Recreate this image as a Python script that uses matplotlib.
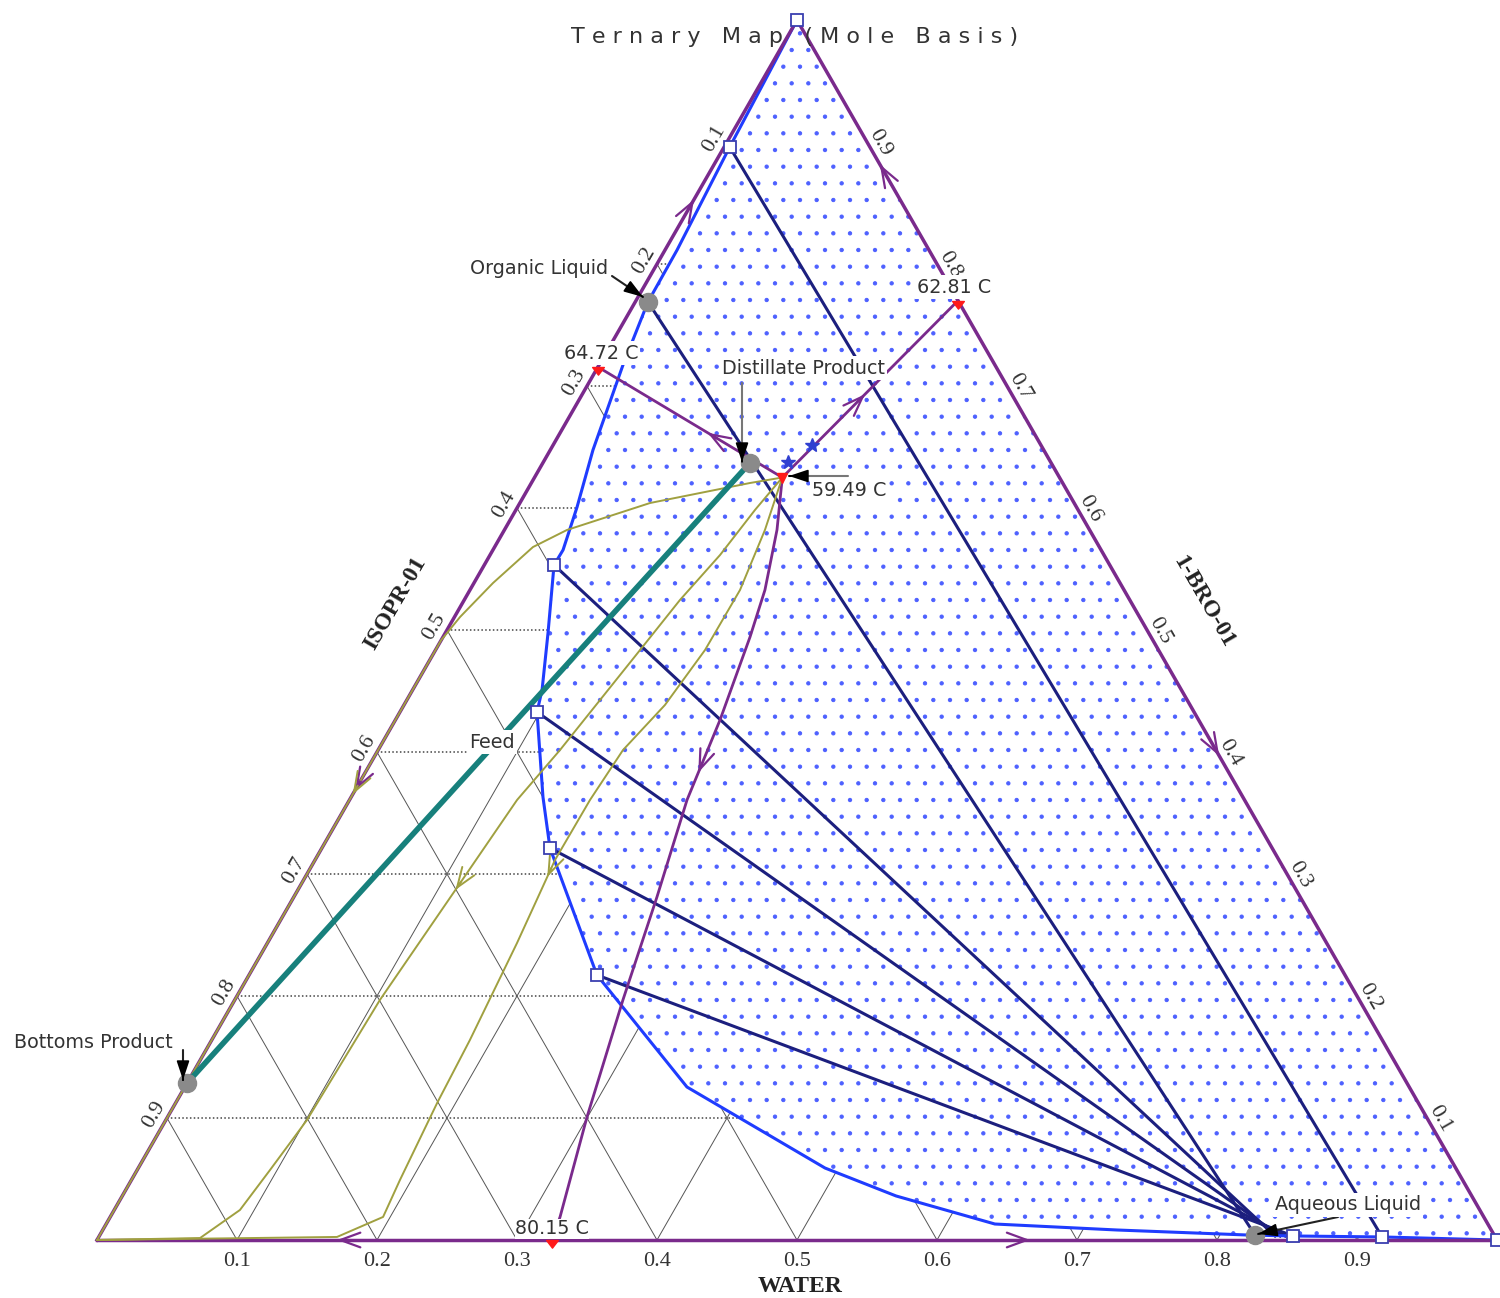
import numpy as np
import matplotlib
matplotlib.use("Agg")
import matplotlib.pyplot as plt
from matplotlib.path import Path

# compositions as (WATER, 1-BRO-01) mole fractions; ISOPR-01 = 1 - water - bro
binodal_water = [0.0, 0.004, 0.0086, 0.0091, 0.0171, 0.0305, 0.0425, 0.0501, 0.0498, 0.0734,
                 0.0925, 0.0979, 0.137, 0.1629, 0.2485, 0.3587, 0.4905, 0.5527, 0.6348, 0.7245,
                 0.8194, 0.8527, 0.9167, 1.0]
binodal_bro = [1.0, 0.8959, 0.8115, 0.7689, 0.7172, 0.6475, 0.6008, 0.5656, 0.5533, 0.4975,
               0.4508, 0.4328, 0.3631, 0.3213, 0.2172, 0.1254, 0.059, 0.0361, 0.0131, 0.0082,
               0.0041, 0.0033, 0.0025, 0.0]

tie_org_water = [0.004, 0.0091, 0.0498, 0.0979, 0.1629, 0.2485]
tie_org_bro = [0.8959, 0.7689, 0.5533, 0.4328, 0.3213, 0.2172]
tie_aq_water = [0.9167, 0.8251, 0.8398, 0.8434, 0.8469, 0.8527]
tie_aq_bro = [0.0025, 0.0041, 0.0033, 0.0033, 0.0033, 0.0033]

node_water = [0.0, 0.004, 0.0498, 0.0979, 0.1629, 0.2485, 0.8527, 0.9167, 1.0]
node_bro = [1.0, 0.8959, 0.5533, 0.4328, 0.3213, 0.2172, 0.0033, 0.0025, 0.0]

# singular points (azeotropes) and their temperatures
azeo_water = [0.0, 0.23, 0.325, 0.177]
azeo_bro = [0.7156, 0.77, 0.0, 0.625]
azeo_temp = ["64.72 C", "62.81 C", "80.15 C", "59.49 C"]

# distillation boundary from the ternary azeotrope down to the 80.15 C azeotrope
bound_water = [0.177, 0.1947, 0.2107, 0.2193, 0.2319, 0.2411, 0.2594, 0.2773, 0.2996, 0.3213, 0.325]
bound_bro = [0.625, 0.582, 0.5328, 0.4943, 0.4262, 0.3607, 0.2811, 0.1967, 0.1008, 0.0189, 0.0]

# residue curves
rc1_water = [0.177, 0.1562, 0.093, 0.0447, 0.0274, 0.0136, 0.004, 0.0, 0.0]
rc1_bro = [0.625, 0.6205, 0.6041, 0.582, 0.568, 0.5385, 0.5107, 0.4918, 0.0]
rc2_water = [0.177, 0.1708, 0.1643, 0.1541, 0.1461, 0.138, 0.1299, 0.1197, 0.1139, 0.1037,
             0.1008, 0.0949, 0.0898, 0.0728, 0.0]
rc2_bro = [0.625, 0.5984, 0.5615, 0.5246, 0.4836, 0.4426, 0.4016, 0.3607, 0.3008, 0.1967,
           0.0984, 0.0574, 0.0246, 0.0016, 0.0]
rc3_water = [0.177, 0.1861, 0.1929, 0.1925, 0.1864, 0.1749, 0.1718, 0.1714, 0.1783, 0.1844,
             0.1868, 0.1918, 0.1949, 0.1702, 0.0]
rc3_bro = [0.625, 0.582, 0.5328, 0.4836, 0.4385, 0.4016, 0.3607, 0.3115, 0.2434, 0.1639,
           0.1123, 0.0492, 0.0189, 0.0025, 0.0]

# streams
dist_water, dist_bro = 0.1479, 0.6369
bott_water, bott_bro = 0.0, 0.1287
orgl_water, orgl_bro = 0.0091, 0.7689
aqul_water, aqul_bro = 0.8251, 0.0041
star_water = [0.1747, 0.1849]
star_bro = [0.6377, 0.6516]

ticks = [0.1, 0.2, 0.3, 0.4, 0.5, 0.6, 0.7, 0.8, 0.9]

PURPLE = "#7a2a8c"
BLUE = "#1f3cff"
NAVY = "#1c1f7e"
OLIVE = "#a0a040"
TEAL = "#17807c"
TXT = "#333333"

plt.rcParams["hatch.linewidth"] = 0.7

# downward triangle hanging below its point
hang = Path([(-1, 0), (1, 0), (0, -1.3), (-1, 0)], closed=True)


def tx(w, b):
    w = np.asarray(w, float)
    b = np.asarray(b, float)
    return w + b / 2.0, b


def at(px, py):
    # layout helper: reference pixel -> data coords
    return (px - 97) / 1400.0, (1240 - py) / 1220.0


def head(w, b, i, frac, color, lw=1.6, ms=24):
    x, y = tx(w, b)
    x0, y0, x1, y1 = x[i], y[i], x[i + 1], y[i + 1]
    cx, cy = x0 + frac * (x1 - x0), y0 + frac * (y1 - y0)
    d = np.hypot(x1 - x0, y1 - y0)
    ux, uy = (x1 - x0) / d * 0.004, (y1 - y0) / d * 0.004
    ax.annotate("", xy=(cx + ux, cy + uy), xytext=(cx - ux, cy - uy),
                arrowprops=dict(arrowstyle="->,head_length=0.6,head_width=0.22", color=color,
                                lw=lw, shrinkA=0, shrinkB=0, mutation_scale=ms), zorder=6)


def pointer(p0, p1, shaft="#222222"):
    a, b = at(*p0), at(*p1)
    ax.annotate("", xy=b, xytext=a,
                arrowprops=dict(arrowstyle="-", color=shaft, lw=1.5, shrinkA=0, shrinkB=0), zorder=9)
    ax.annotate("", xy=b, xytext=(b[0] + (a[0] - b[0]) * 0.01, b[1] + (a[1] - b[1]) * 0.01),
                arrowprops=dict(arrowstyle="-|>,head_length=0.9,head_width=0.3", color="black",
                                lw=1.2, shrinkA=0, shrinkB=0, mutation_scale=13), zorder=9)


fig = plt.figure(figsize=(15, 12.98), dpi=100)
ax = fig.add_axes([0, 0, 1, 1])
ax.set_xlim(-97 / 1400, 1403 / 1400)
ax.set_ylim(-58 / 1220, 1240 / 1220)
ax.axis("off")

# grid
for k in ticks:
    ax.plot(*tx([0, 1 - k], [k, k]), color="#444444", lw=1.1, ls=(0, (1, 1.5)), zorder=1)
    ax.plot(*tx([k, k], [0, 1 - k]), color="#555555", lw=0.7, zorder=1)
    ax.plot(*tx([1 - k, 0], [0, 1 - k]), color="#555555", lw=0.7, zorder=1)

# two-liquid region
bx, by = tx(binodal_water, binodal_bro)
ax.fill(bx, by, color="white", lw=0, zorder=2)
ax.fill(bx, by, facecolor="none", edgecolor="#4d60ff", hatch=".", lw=0, zorder=2.1)

for i in range(len(tie_org_water)):
    ax.plot(*tx([tie_org_water[i], tie_aq_water[i]], [tie_org_bro[i], tie_aq_bro[i]]),
            color=NAVY, lw=2.2, zorder=3)
ax.plot(bx, by, color=BLUE, lw=2.2, zorder=4)

# triangle edges with boundaries
ax.plot(*tx([0, 0], [0, 1]), color=PURPLE, lw=2.5, zorder=5)
ax.plot(*tx([1, 0], [0, 1]), color=PURPLE, lw=2.5, zorder=5)
ax.plot(*tx([0, 1], [0, 0]), color=PURPLE, lw=2.5, zorder=5)
ax.plot(*tx([azeo_water[3], azeo_water[0]], [azeo_bro[3], azeo_bro[0]]), color=PURPLE, lw=2, zorder=5)
ax.plot(*tx([azeo_water[3], azeo_water[1]], [azeo_bro[3], azeo_bro[1]]), color=PURPLE, lw=2, zorder=5)
ax.plot(*tx(bound_water, bound_bro), color=PURPLE, lw=2, zorder=5)

# residue curves
for w, b in [(rc1_water, rc1_bro), (rc2_water, rc2_bro), (rc3_water, rc3_bro)]:
    ax.plot(*tx(w, b), color=OLIVE, lw=1.4, zorder=5.2)

# direction arrows
head([azeo_water[0], 0], [azeo_bro[0], 1], 0, 0.47, PURPLE)
head([azeo_water[0], 0], [azeo_bro[0], 0], 0, 0.48, PURPLE)
head([azeo_water[1], 0], [azeo_bro[1], 1], 0, 0.47, PURPLE)
head([azeo_water[1], 1], [azeo_bro[1], 0], 0, 0.48, PURPLE)
head([azeo_water[2], 0], [0, 0], 0, 0.46, PURPLE)
head([azeo_water[2], 1], [0, 0], 0, 0.5, PURPLE)
head([azeo_water[3], azeo_water[0]], [azeo_bro[3], azeo_bro[0]], 0, 0.38, PURPLE)
head([azeo_water[3], azeo_water[1]], [azeo_bro[3], azeo_bro[1]], 0, 0.45, PURPLE)
head(bound_water, bound_bro, 4, 0.6, PURPLE)
head(rc1_water, rc1_bro, 7, 0.25, OLIVE, lw=1.4)
head(rc2_water, rc2_bro, 8, 0.1, OLIVE, lw=1.4)
head(rc3_water, rc3_bro, 7, 0.15, OLIVE, lw=1.4)

# column material balance line
ax.plot(*tx([dist_water, bott_water], [dist_bro, bott_bro]), color=TEAL, lw=4, zorder=6)

# markers
ax.plot(*tx(node_water, node_bro), ls="none", marker="s", ms=9, mfc="white", mec="#3a3fb0",
        mew=1.3, zorder=7)
ax.plot(*tx([orgl_water, dist_water, bott_water, aqul_water], [orgl_bro, dist_bro, bott_bro, aqul_bro]),
        ls="none", marker="o", ms=13, color="#8a8a8a", zorder=7)
ax.plot(*tx(azeo_water[:3], azeo_bro[:3]), ls="none", marker=hang, ms=11, color="#ff1a1a", zorder=11)
ax.plot(*tx(azeo_water[3], azeo_bro[3]), ls="none", marker="v", ms=7, color="#ff1a1a", zorder=7.5)
ax.plot(*tx(star_water, star_bro), ls="none", marker="*", ms=10, color="#3040d0", zorder=7.5)

lbl = dict(fontsize=13.8, color=TXT, ha="center", va="center", zorder=10,
           bbox=dict(fc="white", ec="none", pad=1.5))
ax.text(*at(601, 353), azeo_temp[0], **lbl)
ax.text(*at(954, 287), azeo_temp[1], **lbl)
ax.text(*at(849, 491), azeo_temp[3], **lbl)
ax.text(*at(552, 1229), azeo_temp[2], fontsize=13.8, color=TXT, ha="center", va="center",
        zorder=6.5, bbox=dict(fc="white", ec="none", pad=0.3))
ax.text(*at(539, 268), "Organic Liquid", **lbl)
ax.text(*at(803, 368), "Distillate Product", **lbl)
ax.text(*at(93, 1043), "Bottoms Product", **lbl)
ax.text(*at(1348, 1205), "Aqueous Liquid", **lbl)
ax.text(*at(492, 742), "Feed", **lbl)

pointer((612, 276), (643, 297))
pointer((742, 383), (742, 462), shaft="#777777")
pointer((848, 476), (789, 476), shaft="#777777")
pointer((183, 1050), (183, 1080))
pointer((1338, 1217), (1258, 1234))

# axis ticks and names
serif = dict(family="Liberation Serif", fontsize=16, color=TXT, ha="center", va="center")
for k in ticks:
    ax.annotate(f"{k:.1f}", xy=tx(k, 0), xytext=(0, -22), textcoords="offset pixels", **serif)
    ax.annotate(f"{k:.1f}", xy=tx(0, 1 - k), xytext=(-13, 3), textcoords="offset pixels",
                rotation=60, **serif)
    ax.annotate(f"{k:.1f}", xy=tx(1 - k, k), xytext=(13, -1), textcoords="offset pixels",
                rotation=-60, **serif)
name = dict(family="Liberation Serif", fontsize=17, fontweight="bold", color="#222222",
            ha="center", va="center")
ax.text(*at(800, 1287), "WATER", **name)
ax.text(*at(395, 603), "ISOPR-01", rotation=60, **name)
ax.text(*at(1203, 602), "1-BRO-01", rotation=-60, **name)

ax.text(*at(795, 37), " ".join("Ternary Map (Mole Basis)"), fontsize=16, color=TXT,
        ha="center", va="center", zorder=10)

fig.savefig("out.png", dpi=100)
